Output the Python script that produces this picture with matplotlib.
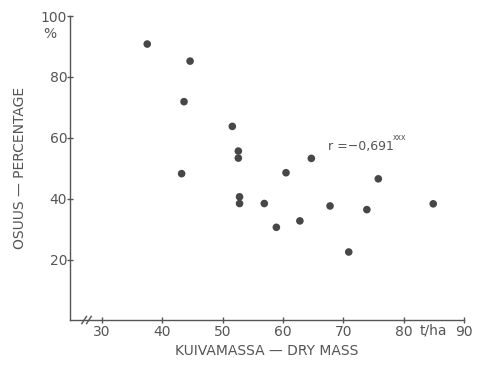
import numpy as np
from matplotlib import pyplot as plt

# dry mass (t/ha) vs percentage
dry_mass = [37.5, 44.6, 43.6, 51.6, 52.6, 52.6, 43.2, 60.5, 64.7, 75.8,
            52.8, 52.8, 56.9, 58.9, 62.8, 67.8, 73.9, 70.9, 84.9]
percentage = [90.8, 85.2, 71.9, 63.8, 55.7, 53.4, 48.3, 48.6, 53.3, 46.6,
              40.7, 38.5, 38.5, 30.7, 32.8, 37.7, 36.5, 22.6, 38.4]
xticks = [30, 40, 50, 60, 70, 80, 90]
yticks = [20, 40, 60, 80, 100]

ink = "#555555"
fs = 10
fig = plt.figure(figsize=(4.8, 3.68), dpi=100)
ax = fig.add_axes([70 / 480, 1 - 320 / 368, 394 / 480, 304 / 368])

ax.scatter(dry_mass, percentage, s=30, color="#474747", edgecolors="none", zorder=3)

ax.set_xlim(24.7, 90)
ax.set_ylim(0.3, 100)
for s in ["top", "right"]:
    ax.spines[s].set_visible(False)
for s in ["left", "bottom"]:
    ax.spines[s].set_color(ink)
    ax.spines[s].set_linewidth(1.0)

ax.set_xticks(xticks)
ax.set_yticks(yticks)
ax.tick_params(axis="x", direction="inout", length=5, width=1, color=ink,
               labelcolor=ink, labelsize=fs, pad=1)
ax.tick_params(axis="y", direction="inout", length=4, width=1, color=ink,
               labelcolor=ink, labelsize=fs, pad=0)

# axis break on x axis
for dx in (0.0, 0.012):
    ax.plot([0.03 + dx, 0.042 + dx], [-0.012, 0.012], transform=ax.transAxes,
            color=ink, lw=1, clip_on=False)

ax.text(85.0, -0.036, "t/ha", transform=ax.get_xaxis_transform(),
        ha="center", va="center", fontsize=fs, color=ink)
ax.text(-0.051, 0.941, "%", transform=ax.transAxes, ha="center", va="center",
        fontsize=fs, color=ink)

ax.set_xlabel("KUIVAMASSA — DRY MASS", color=ink, fontsize=fs, labelpad=4)
ax.set_ylabel("OSUUS — PERCENTAGE", color=ink, fontsize=fs, labelpad=10)

ax.text(67.4, 57.3, "r =−0,691", ha="left", va="center", fontsize=9, color=ink)
ax.text(78.2, 60.3, "xxx", ha="left", va="center", fontsize=5.5, color=ink)

fig.savefig("out.png", dpi=100)
